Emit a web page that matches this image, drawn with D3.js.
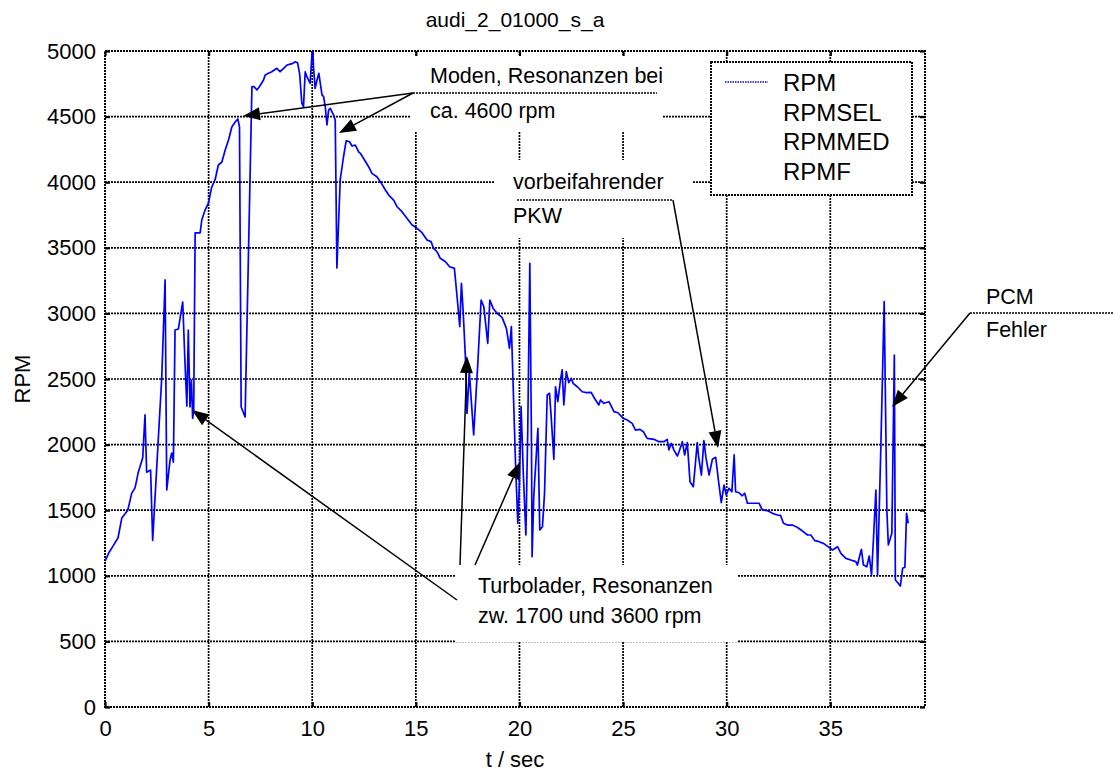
<!DOCTYPE html>
<html>
<head>
<meta charset="utf-8">
<script src="https://cdn.jsdelivr.net/npm/d3@7"></script>
<style>
  html, body { margin: 0; padding: 0; background: #fff; }
  svg { display: block; font-family: "Liberation Sans", Arial, sans-serif; }
</style>
</head>
<body>
<svg id="chart" width="1113" height="772"></svg>
<script>
// Engine speed recording audi_2_01000_s_a
const chartTitle = "audi_2_01000_s_a";
const xLabel = "t / sec";
const yLabel = "RPM";
const xTicks = [0, 5, 10, 15, 20, 25, 30, 35];
const yTicks = [0, 500, 1000, 1500, 2000, 2500, 3000, 3500, 4000, 4500, 5000];
const legendNames = ["RPM", "RPMSEL", "RPMMED", "RPMF"];

// time [s]
const timeSec = [
  0.0, 0.2, 0.4, 0.63, 0.81, 1.1, 1.29, 1.45, 1.6, 1.82, 1.93, 2.01, 2.2, 2.3,
  2.57, 2.74, 2.9, 2.98, 3.14, 3.22, 3.3, 3.38, 3.54, 3.75, 3.86, 3.95, 4.02,
  4.1, 4.17, 4.23, 4.28, 4.35, 4.59, 4.67, 4.83, 4.99, 5.15, 5.31, 5.47, 5.64,
  5.8, 5.96, 6.12, 6.28, 6.41, 6.49, 6.57, 6.76, 7.09, 7.2, 7.33, 7.45, 7.65,
  7.73, 7.89, 8.05, 8.29, 8.45, 8.62, 8.78, 8.94, 9.07, 9.18, 9.29, 9.39, 9.5,
  9.58, 9.66, 9.74, 9.9, 10.02, 10.06, 10.14, 10.23, 10.32, 10.39, 10.47, 10.55,
  10.63, 10.71, 10.79, 10.87, 11.03, 11.11, 11.19, 11.35, 11.51, 11.64, 11.8,
  11.92, 12.08, 12.24, 12.32, 12.48, 12.72, 12.88, 13.12, 13.29, 13.53, 13.69,
  13.93, 14.09, 14.33, 14.57, 14.82, 15.06, 15.3, 15.54, 15.73, 15.86, 16.02,
  16.18, 16.43, 16.63, 16.86, 16.99, 17.12, 17.2, 17.28, 17.39, 17.47, 17.58,
  17.79, 17.99, 18.15, 18.28, 18.47, 18.57, 18.73, 18.92, 19.16, 19.37, 19.52,
  19.61, 19.81, 19.92, 20.0, 20.08, 20.18, 20.31, 20.4, 20.5, 20.58, 20.61,
  20.69, 20.89, 20.98, 21.11, 21.21, 21.34, 21.45, 21.53, 21.66, 21.74, 21.85,
  21.98, 22.06, 22.14, 22.26, 22.38, 22.5, 22.59, 22.79, 23.03, 23.23, 23.46,
  23.62, 23.83, 23.91, 24.07, 24.32, 24.56, 24.75, 25.01, 25.2, 25.44, 25.6,
  25.81, 25.98, 26.16, 26.49, 26.73, 26.97, 27.13, 27.21, 27.33, 27.45, 27.62,
  27.7, 27.86, 27.97, 28.1, 28.23, 28.39, 28.58, 28.65, 28.78, 28.9, 29.0,
  29.15, 29.31, 29.47, 29.6, 29.74, 29.87, 29.98, 30.11, 30.25, 30.36, 30.43,
  30.6, 30.75, 30.87, 31.0, 31.24, 31.56, 31.72, 31.95, 32.21, 32.45, 32.6,
  32.74, 32.93, 33.17, 33.4, 33.66, 33.9, 34.06, 34.25, 34.46, 34.67, 34.89,
  35.11, 35.35, 35.51, 35.75, 35.99, 36.23, 36.31, 36.5, 36.6, 36.76, 36.88,
  36.99, 37.08, 37.2, 37.28, 37.44, 37.6, 37.73, 37.8, 37.97, 38.09, 38.14,
  38.28, 38.38, 38.49, 38.6, 38.68, 38.76
];

// engine speed [1/min]
const rpmValues = [
  1110, 1180, 1230, 1290, 1440, 1500, 1630, 1670, 1785, 1900, 2226, 1790, 1806, 1270,
  2035, 2515, 3255, 1654, 1883, 1936, 1867, 2873, 2881, 3087, 2622, 2294, 2873,
  2287, 2492, 2200, 2260, 3613, 3613, 3712, 3788, 3841, 3963, 4017, 4131, 4154,
  4245, 4322, 4421, 4459, 4482, 4421, 2287, 2210, 4728, 4728, 4703, 4728, 4779,
  4817, 4830, 4842, 4868, 4842, 4868, 4893, 4900, 4906, 4918, 4911, 4830, 4601,
  4575, 4842, 4804, 4753, 5060, 4880, 4715, 4779, 4830, 4753, 4665, 4652,
  4575, 4436, 4550, 4563, 4512, 4474, 3346, 4017, 4194, 4316, 4308,
  4276, 4283, 4232, 4220, 4181, 4118, 4067, 4042, 4004, 3941, 3902,
  3864, 3813, 3775, 3725, 3674, 3648, 3615, 3559, 3547, 3496, 3470,
  3420, 3394, 3356, 3343, 3127, 2899, 3229, 3026, 2670, 2238, 2556,
  2073, 2619, 3102, 3051, 2772, 3102, 3038, 3001, 2970, 2886, 2734,
  2899, 1857, 1400, 1705, 2289, 1806, 1311, 2111, 3382, 2010, 1146,
  1603, 2124, 1349, 1374, 1629, 2378, 2391, 2213, 1888, 2441, 2327,
  2492, 2569, 2302, 2556, 2472, 2505, 2467, 2441, 2403, 2396, 2398,
  2353, 2302, 2340, 2315, 2327, 2251, 2243, 2200, 2188, 2162, 2111,
  2116, 2098, 2048, 2040, 2022, 2022, 2040, 1959, 2010, 1960, 1913,
  1946, 2022, 1921, 2015, 1717, 1679, 2015, 1900, 1768, 2030, 1900,
  1768, 1888, 1903, 1730, 1557, 1692, 1616, 1667, 1640, 1921, 1641,
  1633, 1610, 1629, 1553, 1553, 1553, 1502, 1497, 1476, 1463, 1460,
  1400, 1387, 1387, 1370, 1341, 1311, 1311, 1268, 1260, 1247, 1222,
  1197, 1222, 1171, 1133, 1120, 1108, 1082, 1202, 1082, 1069, 1151,
  1006, 1273, 1654, 1006, 1984, 3089, 1502, 1235, 1324, 2683, 968,
  943, 922, 1057, 1065, 1476, 1400
];

// Annotation labels
const notes = [
  { lines: ["Moden, Resonanzen bei", "ca. 4600 rpm"] },
  { lines: ["vorbeifahrender", "PKW"] },
  { lines: ["Turbolader, Resonanzen", "zw. 1700 und 3600 rpm"] },
  { lines: ["PCM", "Fehler"] }
];

const series = timeSec.map((t, i) => ({ t, v: rpmValues[i] }));

const svg = d3.select("#chart");
const L = 105, R = 925, T = 51, B = 707;

const x = d3.scaleLinear().domain([0, 39.57]).range([L, R]);
const y = d3.scaleLinear().domain([0, 5000]).range([B, T]);

const dotted = "2,1";
const fontTick = 22;

// grid
const grid = svg.append("g");
grid.selectAll("line.gx").data(xTicks.filter(d => d > 0)).join("line")
  .attr("x1", d => x(d)).attr("x2", d => x(d)).attr("y1", T).attr("y2", B)
  .attr("stroke", "#000").attr("stroke-width", 1.7).attr("stroke-dasharray", dotted);
grid.selectAll("line.gy").data(yTicks.filter(d => d > 0 && d < 5000)).join("line")
  .attr("x1", L).attr("x2", R).attr("y1", d => y(d)).attr("y2", d => y(d))
  .attr("stroke", "#000").attr("stroke-width", 1.7).attr("stroke-dasharray", dotted);

// white panels behind annotation text
const panels = [
  [410, 55, 252, 77],
  [495, 160, 197, 78],
  [456, 565, 282, 77]
];
svg.append("g").selectAll("rect").data(panels).join("rect")
  .attr("x", d => d[0]).attr("y", d => d[1]).attr("width", d => d[2]).attr("height", d => d[3])
  .attr("fill", "#fff");

// axes with inward ticks on all four sides
const axB = svg.append("g").attr("transform", `translate(0,${B})`)
  .call(d3.axisBottom(x).tickValues(xTicks).tickSize(-5).tickPadding(12).tickFormat(d3.format("d")));
const axT = svg.append("g").attr("transform", `translate(0,${T})`)
  .call(d3.axisTop(x).tickValues(xTicks).tickSize(-5).tickFormat(""));
const axL = svg.append("g").attr("transform", `translate(${L},0)`)
  .call(d3.axisLeft(y).tickValues(yTicks).tickSize(-5).tickPadding(9).tickFormat(d3.format("d")));
const axR = svg.append("g").attr("transform", `translate(${R},0)`)
  .call(d3.axisRight(y).tickValues(yTicks).tickSize(-5).tickFormat(""));
[axB, axT, axL, axR].forEach(g => {
  g.select(".domain").remove();
  g.selectAll(".tick line").attr("stroke", "#000").attr("stroke-width", 2.2);
  g.selectAll("text").attr("font-size", fontTick).attr("fill", "#000")
    .attr("font-family", "Liberation Sans, Arial, sans-serif");
});
axB.selectAll("text").attr("dy", "0.75em");

// frame
svg.append("rect").attr("x", L).attr("y", T).attr("width", R - L).attr("height", B - T)
  .attr("fill", "none").attr("stroke", "#000").attr("stroke-width", 2)
  .attr("stroke-dasharray", dotted);

// data line
svg.append("clipPath").attr("id", "plotclip").append("rect")
  .attr("x", L).attr("y", T).attr("width", R - L).attr("height", B - T);
const line = d3.line().x(d => x(d.t)).y(d => y(d.v));
svg.append("path").datum(series)
  .attr("clip-path", "url(#plotclip)")
  .attr("d", line).attr("fill", "none").attr("stroke", "#0000ff")
  .attr("stroke-width", 1.7).attr("stroke-linejoin", "round");

// labels
svg.append("text").attr("x", (L + R) / 2).attr("y", 27).attr("text-anchor", "middle")
  .attr("font-size", 21).text(chartTitle);
svg.append("text").attr("x", (L + R) / 2).attr("y", 767).attr("text-anchor", "middle")
  .attr("font-size", 22).text(xLabel);
svg.append("text").attr("transform", `translate(30,${(T + B) / 2}) rotate(-90)`)
  .attr("text-anchor", "middle").attr("font-size", 22).text(yLabel);

// legend
const lg = svg.append("g");
lg.append("rect").attr("x", 711).attr("y", 62).attr("width", 201).attr("height", 133)
  .attr("fill", "#fff").attr("stroke", "#000").attr("stroke-width", 2)
  .attr("stroke-dasharray", dotted);
lg.append("line").attr("x1", 725).attr("x2", 768).attr("y1", 82).attr("y2", 82)
  .attr("stroke", "#0000ff").attr("stroke-width", 1.7).attr("stroke-dasharray", "1.5,1");
lg.selectAll("text").data(legendNames).join("text")
  .attr("x", 783).attr("y", (d, i) => 91 + i * 29.7)
  .attr("font-size", 24).text(d => d);

// annotation arrows
const ann = svg.append("g");
function dottedSeg(x1, y1, x2, y2) {
  ann.append("line").attr("x1", x1).attr("y1", y1).attr("x2", x2).attr("y2", y2)
    .attr("stroke", "#000").attr("stroke-width", 1.5).attr("stroke-dasharray", dotted);
}
function arrow(x1, y1, x2, y2) {
  const ang = Math.atan2(y2 - y1, x2 - x1);
  const len = 17, hw = 6.5;
  const bx = x2 - len * Math.cos(ang), by = y2 - len * Math.sin(ang);
  ann.append("line").attr("x1", x1).attr("y1", y1).attr("x2", bx).attr("y2", by)
    .attr("stroke", "#000").attr("stroke-width", 1.5);
  const px = -Math.sin(ang) * hw, py = Math.cos(ang) * hw;
  ann.append("path")
    .attr("d", `M${x2},${y2}L${bx + px},${by + py}L${bx - px},${by - py}Z`)
    .attr("fill", "#000");
}
dottedSeg(413, 93, 657, 93);
arrow(413, 93, 243, 116);
arrow(413, 93, 339, 133);
dottedSeg(517, 200, 673, 200);
arrow(673, 200, 718, 448);
arrow(457, 600, 192, 410);
arrow(460, 565, 467, 356);
arrow(475, 565, 520, 462);
dottedSeg(970, 313, 1113, 313);
arrow(970, 313, 892, 407);

// annotation text
const notePos = [
  { x: 430, y: [83, 118] },
  { x: 513, y: [189, 223] },
  { x: 478, y: [593, 623] },
  { x: 986, y: [304, 337] }
];
notes.forEach((n, i) => {
  n.lines.forEach((s, j) => {
    ann.append("text").attr("x", notePos[i].x).attr("y", notePos[i].y[j])
      .attr("font-size", 21.5).text(s);
  });
});
</script>
</body>
</html>
